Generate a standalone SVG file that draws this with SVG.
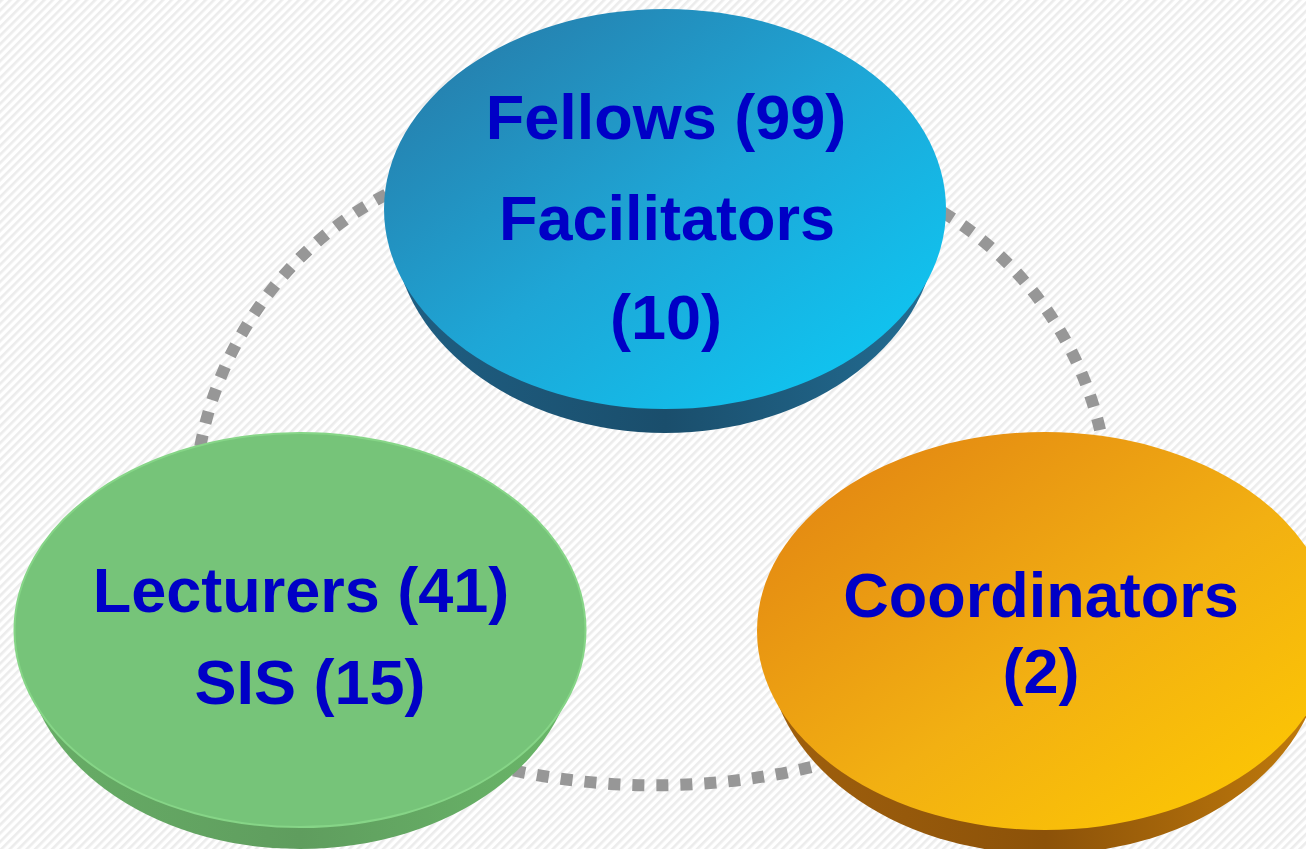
<svg xmlns="http://www.w3.org/2000/svg" width="1306" height="849" viewBox="0 0 1306 849">
<defs>
<pattern id="bg" width="6" height="6" patternUnits="userSpaceOnUse" patternTransform="rotate(-45)">
<rect width="6" height="6" fill="#ffffff"/>
<rect width="6" height="2.6" fill="#ececec"/>
</pattern>
<linearGradient id="gBlue" x1="0" y1="0" x2="1" y2="1">
<stop offset="0" stop-color="#2875a2"/>
<stop offset="0.5" stop-color="#1ea6d6"/>
<stop offset="1" stop-color="#0bcdf8"/>
</linearGradient>
<linearGradient id="sBlue" x1="0" y1="0" x2="1" y2="0">
<stop offset="0" stop-color="#1f5f83"/>
<stop offset="0.5" stop-color="#1a4e6c"/>
<stop offset="1" stop-color="#236d93"/>
</linearGradient>
<linearGradient id="gOrange" x1="0" y1="0" x2="1" y2="1">
<stop offset="0" stop-color="#e07f12"/>
<stop offset="0.55" stop-color="#f2b012"/>
<stop offset="1" stop-color="#ffcc00"/>
</linearGradient>
<linearGradient id="sOrange" x1="0" y1="0" x2="1" y2="0">
<stop offset="0" stop-color="#a0600d"/>
<stop offset="0.5" stop-color="#8c5209"/>
<stop offset="1" stop-color="#c27c0c"/>
</linearGradient>
<linearGradient id="sGreen" x1="0" y1="0" x2="1" y2="0">
<stop offset="0" stop-color="#68ae67"/>
<stop offset="0.5" stop-color="#5f9d5e"/>
<stop offset="1" stop-color="#6ab769"/>
</linearGradient>
<style>
.conn{fill:none;stroke:#979797;stroke-width:12;stroke-dasharray:12 12;stroke-linecap:butt}
.lbl{font-family:"Liberation Sans",Arial,Helvetica,sans-serif;font-weight:bold;font-size:63px;fill:#0000c6;text-anchor:middle}
</style>
</defs>
<rect width="1306" height="849" fill="url(#bg)"/>
<g id="connectors">
<path class="conn" d="M430,175 A360,360 0 0 0 198,460"/>
<path class="conn" d="M900,190 A347,347 0 0 1 1107,471"/>
<path class="conn" d="M490,765 A680,680 0 0 0 820,765"/>
</g>
<g id="node-fellows">
<ellipse cx="665" cy="224" rx="272" ry="209" fill="url(#sBlue)"/>
<ellipse cx="665" cy="209" rx="281" ry="200" fill="url(#gBlue)"/>
<text class="lbl" x="666" y="139">Fellows (99)</text>
<text class="lbl" x="667" y="240">Facilitators</text>
<text class="lbl" x="666" y="339">(10)</text>
</g>
<g id="node-lecturers">
<ellipse cx="300" cy="644" rx="276" ry="205" fill="url(#sGreen)"/>
<ellipse cx="300" cy="630" rx="285.5" ry="197" fill="#76c479" stroke="#86d587" stroke-width="2"/>
<text class="lbl" x="301" y="612">Lecturers (41)</text>
<text class="lbl" x="310" y="704">SIS (15)</text>
</g>
<g id="node-coordinators">
<ellipse cx="1045" cy="646" rx="278" ry="208" fill="url(#sOrange)"/>
<ellipse cx="1045" cy="631" rx="288" ry="199" fill="url(#gOrange)"/>
<text class="lbl" x="1041" y="617">Coordinators</text>
<text class="lbl" x="1041" y="693">(2)</text>
</g>
</svg>
